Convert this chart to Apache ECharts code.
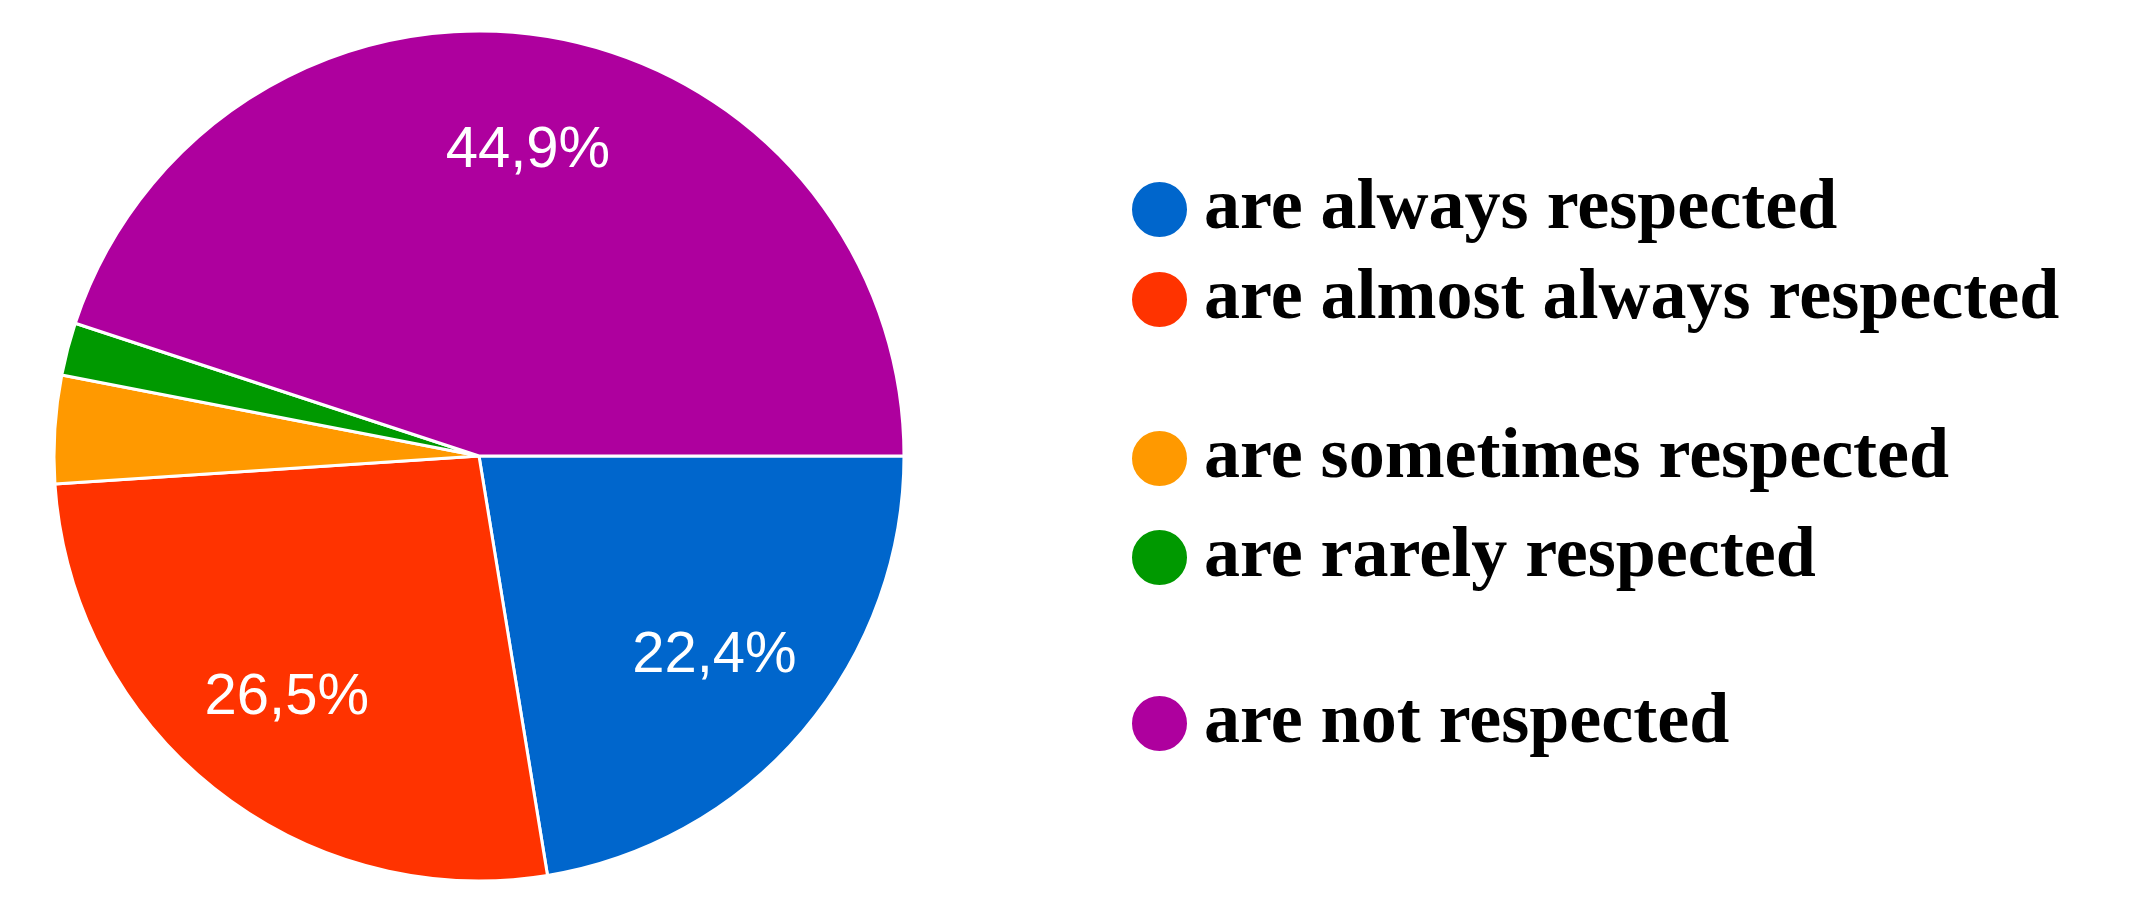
<!DOCTYPE html>
<html>
<head>
<meta charset="utf-8">
<script src="https://cdn.jsdelivr.net/npm/echarts@6/dist/echarts.min.js"></script>
<style>
  html, body { margin: 0; padding: 0; background: #ffffff; }
  #chart { width: 2142px; height: 916px; }
</style>
</head>
<body>
<div id="chart"></div>
<script>
// ---- data ----
const categories = [
  'are always respected',
  'are almost always respected',
  'are sometimes respected',
  'are rarely respected',
  'are not respected'
];
const percentValues = [22.4, 26.5, 4.1, 2.0, 44.9];
const sliceColors = ['#0066cc', '#ff3300', '#ff9900', '#009900', '#ae009e'];
const labelShown = [true, true, false, false, true];
const legendTops = [202, 292, 451, 550, 716]; // centres of legend rows

const chart = echarts.init(document.getElementById('chart'), null, { renderer: 'canvas' });

const center = [479, 456];
const R = 425;

const mainData = categories.map((name, i) => ({
  name: name,
  value: percentValues[i],
  itemStyle: { color: sliceColors[i] }
}));
const labelData = categories.map((name, i) => ({
  name: name,
  value: percentValues[i],
  label: { show: labelShown[i] }
}));

const iconSize = 57;
const legends = categories.map((name, i) => ({
  data: [name],
  orient: 'vertical',
  left: 1130,
  top: legendTops[i] - iconSize / 2,
  icon: 'circle',
  itemWidth: iconSize,
  itemHeight: iconSize,
  selectedMode: false,
  padding: 0,
  textStyle: {
    fontFamily: 'Liberation Serif',
    fontWeight: 'bold',
    fontSize: 72,
    color: '#000000',
    lineHeight: iconSize,
    padding: [0, 0, 0, 11]
  }
}));

chart.setOption({
  animation: false,
  backgroundColor: '#ffffff',
  legend: legends,
  series: [
    {
      type: 'pie',
      center: center,
      radius: [0, R],
      startAngle: 0,
      clockwise: true,
      avoidLabelOverlap: false,
      data: mainData,
      label: { show: false },
      labelLine: { show: false },
      itemStyle: { borderColor: '#ffffff', borderWidth: 3 },
      emphasis: { disabled: true }
    },
    {
      type: 'pie',
      center: center,
      radius: [Math.round(R * 0.44), R],
      startAngle: 0,
      clockwise: true,
      avoidLabelOverlap: false,
      silent: true,
      data: labelData,
      itemStyle: { color: 'rgba(0,0,0,0)', borderWidth: 0 },
      label: {
        show: true,
        position: 'inside',
        color: '#ffffff',
        fontFamily: 'Liberation Sans',
        fontSize: 58,
        formatter: p => p.value.toFixed(1).replace('.', ',') + '%'
      },
      labelLine: { show: false },
      emphasis: { disabled: true }
    }
  ]
});
</script>
</body>
</html>
